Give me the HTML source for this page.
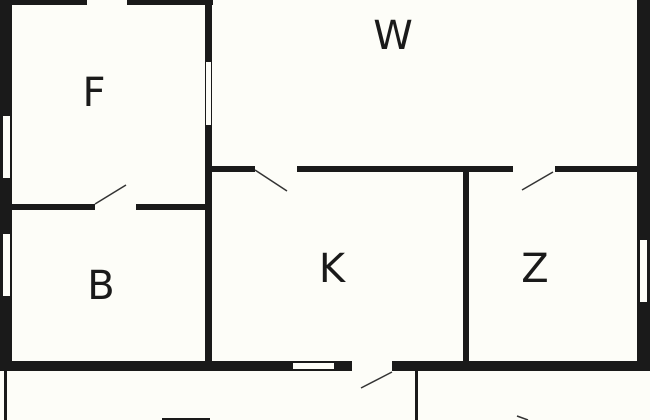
<!DOCTYPE html>
<html><head><meta charset="utf-8"><style>
html,body{margin:0;padding:0;background:#fdfdf8;width:650px;height:420px;overflow:hidden;}
svg{display:block}
text{font-family:"DejaVu Sans","Liberation Sans",sans-serif;font-size:40px;fill:#1a1a1a;text-anchor:middle}
</style></head><body>
<svg width="650" height="420" viewBox="0 0 650 420" xmlns="http://www.w3.org/2000/svg">
<rect width="650" height="420" fill="#fdfdf8"/>
<g fill="#1a1a1a">
<rect x="0" y="0" width="213" height="5"/>
<rect x="0" y="0" width="12" height="371"/>
<rect x="205" y="0" width="7" height="371"/>
<rect x="637" y="0" width="13" height="371"/>
<rect x="212" y="166" width="430" height="6"/>
<rect x="12" y="204" width="193" height="6"/>
<rect x="463" y="172" width="6" height="190"/>
<rect x="0" y="361" width="650" height="10"/>
<rect x="4" y="371" width="3" height="49"/>
<rect x="415" y="371" width="3" height="49"/>
<rect x="162" y="418" width="48" height="2"/>
</g>
<g fill="#fdfdf8">
<rect x="87" y="0" width="40" height="5"/>
<rect x="206" y="62" width="5" height="63"/>
<rect x="3" y="116" width="7" height="62"/>
<rect x="3" y="234" width="7" height="62"/>
<rect x="640" y="240" width="7" height="62"/>
<rect x="255" y="166" width="42" height="6"/>
<rect x="513" y="166" width="42" height="6"/>
<rect x="95" y="204" width="41" height="6"/>
<rect x="352" y="361" width="40" height="10"/>
<rect x="293" y="363" width="41" height="6"/>
</g>
<g stroke="#333" stroke-width="1.5" fill="none">
<line x1="255" y1="170" x2="287" y2="191"/>
<line x1="553" y1="172" x2="522" y2="190"/>
<line x1="95" y1="204" x2="126" y2="185"/>
<line x1="392" y1="372" x2="361" y2="388"/>
<line x1="517" y1="416" x2="528" y2="420"/>
</g>
<text x="393" y="49">W</text>
<text x="94" y="106">F</text>
<text x="101" y="299">B</text>
<text x="332" y="282">K</text>
<text x="535" y="282">Z</text>
</svg>
</body></html>
